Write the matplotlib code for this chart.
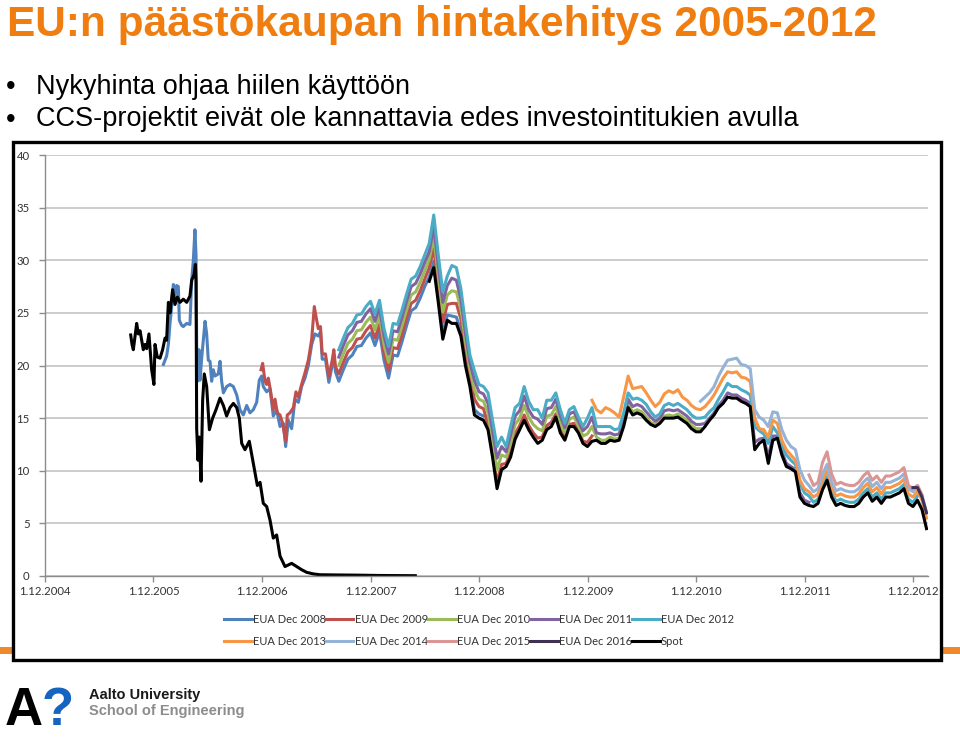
import numpy as np
import matplotlib
matplotlib.use("Agg")
import matplotlib.pyplot as plt
from matplotlib.patches import Rectangle

# time in decimal years; phase II prices sampled twice a month from Aug 2007
T2 = 2007.625 + np.arange(131) / 24

tick_pos = [2004.917 + i for i in range(9)]
tick_labels = ["1.12.%d" % (2004 + i) for i in range(9)]

# spot, phase I (2005-2008)
spot1_t = [2005.707, 2005.719, 2005.731, 2005.762, 2005.777, 2005.793, 2005.823, 2005.839,
           2005.854, 2005.875, 2005.900, 2005.921, 2005.931, 2005.952, 2005.977, 2006.001,
           2006.023, 2006.038, 2006.054, 2006.069, 2006.093, 2006.115, 2006.137, 2006.161,
           2006.192, 2006.223, 2006.253, 2006.269, 2006.290, 2006.303, 2006.309, 2006.315,
           2006.327, 2006.339, 2006.355, 2006.370, 2006.385, 2006.407, 2006.432, 2006.462,
           2006.493, 2006.530, 2006.561, 2006.591, 2006.622, 2006.653, 2006.684, 2006.708,
           2006.730, 2006.760, 2006.800, 2006.837, 2006.874, 2006.899, 2006.929, 2006.960,
           2006.991, 2007.021, 2007.052, 2007.083, 2007.129, 2007.190, 2007.236, 2007.282,
           2007.328, 2007.390, 2007.451, 2007.600, 2007.800, 2008.000, 2008.330]
spot1_v = [22.9, 22.0, 21.5, 24.0, 23.0, 23.3, 21.5, 22.0,
           21.6, 23.0, 19.6, 18.2, 22.0, 20.8, 20.7, 21.5,
           22.6, 22.4, 26.0, 25.0, 27.2, 25.8, 26.5, 26.0,
           26.3, 26.0, 26.6, 28.1, 28.6, 29.6, 28.0, 14.0,
           11.0, 13.2, 9.0, 16.7, 19.2, 18.0, 13.9, 15.0,
           15.8, 16.9, 16.2, 15.2, 16.0, 16.4, 16.0, 15.0,
           12.6, 12.0, 12.8, 10.7, 8.6, 8.9, 6.9, 6.6,
           5.3, 3.6, 3.9, 1.9, 0.9, 1.2, 0.9, 0.6,
           0.35, 0.2, 0.12, 0.1, 0.08, 0.05, 0.03]

# spot, phase II (from grid point 20)
spot2_v = [28.0, 29.3, 26.0, 22.5, 24.3, 24.0, 24.0, 22.8, 20.0, 18.0, 15.3, 15.0, 14.8,
           13.9, 11.3, 8.3, 10.1, 10.4, 11.3, 13.0, 13.9, 14.8, 13.9, 13.2, 12.6, 12.9, 13.9,
           14.2, 15.1, 13.6, 12.9, 14.2, 14.2, 13.6, 12.6, 12.3, 12.8,
           12.9, 12.6, 12.6, 12.9, 12.8, 12.9, 14.2, 16.0, 15.3, 15.5, 15.3, 14.8, 14.4, 14.2,
           14.5, 15.0, 15.0, 15.0, 15.1, 14.8, 14.5, 14.0, 13.7, 13.7,
           14.2, 14.8, 15.3, 16.0, 16.4, 17.0, 16.9, 16.9, 16.6, 16.4, 16.1, 12.0, 12.6, 12.9,
           10.7, 12.9, 13.1, 11.5, 10.4, 10.2, 9.9, 7.5, 6.9, 6.7,
           6.6, 6.9, 8.2, 9.1, 7.5, 6.7, 6.9, 6.7, 6.6, 6.6, 6.9, 7.5, 7.9, 7.1, 7.5, 6.9,
           7.5, 7.5, 7.7, 7.9, 8.3, 6.9, 6.6, 7.2, 6.3, 4.5]

# EUA Dec 2008, early part
dec08_early_t = [2006.008, 2006.023, 2006.038, 2006.054, 2006.069, 2006.084, 2006.100, 2006.115,
                 2006.130, 2006.146, 2006.155, 2006.177, 2006.192, 2006.223, 2006.253, 2006.269,
                 2006.284, 2006.299, 2006.309, 2006.315, 2006.324, 2006.336, 2006.346, 2006.361,
                 2006.392, 2006.407, 2006.422, 2006.438, 2006.453, 2006.468, 2006.484, 2006.514,
                 2006.530, 2006.545, 2006.561, 2006.591, 2006.622, 2006.653, 2006.684, 2006.714,
                 2006.745, 2006.776, 2006.806, 2006.837, 2006.868, 2006.892, 2006.914, 2006.929,
                 2006.960, 2006.991, 2007.021, 2007.052, 2007.083, 2007.114, 2007.135, 2007.160,
                 2007.190, 2007.221, 2007.252, 2007.282, 2007.313, 2007.344, 2007.375, 2007.405,
                 2007.436, 2007.456, 2007.472, 2007.502, 2007.533, 2007.564, 2007.579, 2007.594]
dec08_early_v = [20.1, 20.5, 20.9, 22.0, 24.0, 25.5, 27.7, 26.5,
                 27.6, 27.5, 24.3, 23.8, 23.7, 24.0, 23.9, 28.1,
                 30.0, 32.9, 30.5, 21.8, 18.5, 21.5, 18.6, 20.7,
                 24.2, 23.0, 20.5, 20.4, 18.5, 19.6, 19.0, 19.2,
                 20.4, 18.5, 17.4, 18.0, 18.2, 18.0, 17.2, 15.8,
                 15.3, 16.2, 15.5, 15.8, 16.5, 18.6, 19.0, 18.0,
                 17.5, 17.8, 15.2, 15.8, 14.2, 14.5, 12.3, 14.8,
                 14.0, 16.8, 16.5, 18.0, 18.8, 20.0, 22.0, 23.0,
                 22.8, 23.2, 20.6, 20.6, 18.4, 20.0, 21.0, 19.4]
dec08_v = [18.5, 19.6, 20.6, 21.0, 21.8, 21.9, 22.6, 23.1, 21.9, 23.2, 20.5, 18.8, 21.0, 20.9,
           22.3, 23.8, 25.2, 25.5, 26.4, 27.5,
           28.4, 29.9, 26.5, 23.0, 24.8, 24.7, 24.6, 23.3, 20.5, 18.4, 15.8, 15.4, 15.2]

# EUA Dec 2009, early part
dec09_early_t = [2006.908, 2006.923, 2006.945, 2006.960, 2006.975, 2006.997, 2007.021, 2007.037,
                 2007.058, 2007.083, 2007.107, 2007.135, 2007.150, 2007.175, 2007.206, 2007.230,
                 2007.252, 2007.282, 2007.313, 2007.344, 2007.375, 2007.399, 2007.421, 2007.436,
                 2007.456, 2007.472, 2007.502, 2007.533, 2007.564, 2007.579, 2007.594]
dec09_early_v = [19.6, 20.2, 18.5, 18.2, 18.8, 17.5, 15.8, 16.8,
                 15.5, 15.3, 14.5, 12.8, 15.3, 15.5, 16.0, 17.5,
                 17.0, 18.2, 19.3, 20.5, 22.5, 25.6, 24.3, 23.5,
                 23.7, 21.1, 21.1, 18.9, 20.5, 21.5, 19.9]
dec09_v = [19.2, 20.3, 21.3, 21.7, 22.5, 22.6, 23.3, 23.8, 22.6, 23.9, 21.2, 19.5, 21.7, 21.6,
           23.0, 24.5, 25.9, 26.2, 27.1, 28.2,
           29.3, 31.1, 27.6, 24.1, 25.8, 25.9, 25.9, 24.4, 21.4, 19.1, 16.8, 16.1, 15.9,
           14.4, 11.8, 8.9, 10.6, 10.7, 11.7, 13.5, 14.3, 15.3, 14.3, 13.6, 13.1, 13.2, 14.3,
           14.6, 15.4, 13.9, 13.1, 14.4, 14.5, 13.8, 12.8, 12.7, 13.3]

dec10_v = [20.0, 21.1, 22.1, 22.5, 23.3, 23.4, 24.1, 24.6, 23.4, 24.7, 22.0, 20.3, 22.5, 22.4,
           23.8, 25.3, 26.7, 27.0, 27.9, 29.0,
           30.1, 32.2, 28.6, 25.1, 26.7, 27.1, 27.0, 25.4, 22.3, 19.7, 17.7, 16.8, 16.6,
           15.5, 12.9, 10.1, 11.5, 11.3, 12.6, 14.4, 15.0, 16.2, 15.1, 14.4, 14.0, 13.8, 15.2,
           15.3, 16.1, 14.6, 13.6, 14.9, 15.1, 14.3, 13.3, 13.5, 14.2,
           13.2, 12.9, 12.9, 13.2, 13.0, 13.1, 14.5, 16.3, 15.6, 15.8, 15.6, 15.1, 14.6, 14.4,
           14.7, 15.2, 15.3, 15.2, 15.4, 15.1, 14.8, 14.3, 14.0, 14.0]

dec11_v = [20.8, 21.9, 22.9, 23.3, 24.1, 24.2, 24.9, 25.4, 24.2, 25.5, 22.8, 21.1, 23.3, 23.2,
           24.6, 26.1, 27.5, 27.8, 28.7, 29.8,
           30.8, 33.2, 29.5, 26.0, 27.6, 28.3, 28.1, 26.3, 23.1, 20.3, 18.6, 17.5, 17.3,
           16.4, 13.8, 11.2, 12.3, 11.8, 13.4, 15.2, 15.7, 17.1, 15.8, 15.1, 14.9, 14.4, 15.9,
           16.0, 16.8, 15.2, 14.1, 15.4, 15.6, 14.7, 13.8, 14.2, 15.1,
           13.6, 13.5, 13.5, 13.6, 13.4, 13.5, 14.9, 16.8, 16.1, 16.3, 16.1, 15.6, 15.1, 14.7,
           15.0, 15.7, 15.8, 15.7, 15.8, 15.5, 15.2, 14.7, 14.4, 14.4,
           14.5, 15.0, 15.5, 16.2, 16.7, 17.4, 17.2, 17.2, 16.9, 16.7, 16.4, 12.7, 13.0, 13.1,
           11.3, 13.3, 13.3, 11.8, 10.7, 10.4, 10.1, 7.9, 7.2, 7.0]

dec12_v = [21.5, 22.6, 23.6, 24.0, 24.8, 24.9, 25.6, 26.1, 24.9, 26.2, 23.5, 21.8, 24.0, 23.9,
           25.3, 26.8, 28.2, 28.5, 29.4, 30.5,
           31.6, 34.3, 30.5, 27.0, 28.5, 29.5, 29.3, 27.3, 24.0, 21.0, 19.5, 18.2, 18.0,
           17.4, 14.8, 12.3, 13.2, 12.3, 14.2, 16.0, 16.4, 18.0, 16.6, 15.8, 15.8, 15.0, 16.7,
           16.7, 17.4, 15.8, 14.5, 15.8, 16.1, 15.1, 14.2, 15.0, 16.0,
           14.2, 14.2, 14.2, 14.2, 13.9, 14.0, 15.5, 17.4, 16.8, 16.9, 16.7, 16.3, 15.6, 15.1,
           15.4, 16.2, 16.4, 16.2, 16.4, 16.1, 15.8, 15.3, 15.0, 15.0,
           15.1, 15.6, 16.0, 16.8, 17.5, 18.3, 18.0, 18.0, 17.7, 17.5, 17.2, 14.2, 13.8, 13.5,
           12.6, 14.2, 13.6, 12.4, 11.5, 11.0, 10.6, 8.8, 7.9, 7.6,
           7.0, 7.3, 8.6, 9.5, 7.9, 7.1, 7.3, 7.1, 7.0, 7.0, 7.3, 7.9, 8.3, 7.5, 7.9, 7.3,
           7.9, 7.9, 8.1, 8.3, 8.7, 7.3, 7.0, 7.6]

# from grid point 56
dec13_v = [16.7, 15.8, 15.5, 16.0, 15.8, 15.5, 15.1, 17.0, 19.0, 17.8, 17.9, 18.0, 17.4,
           16.7, 16.1, 16.5, 17.3, 17.6, 17.4, 17.7, 17.0, 16.7, 16.2, 15.9, 15.8,
           16.1, 16.6, 17.2, 18.0, 18.8, 19.4, 19.3, 19.4, 18.9, 18.8, 18.5, 15.0, 14.0, 13.9,
           13.2, 14.8, 14.5, 12.9, 12.0, 11.5, 11.0, 9.1, 8.3, 8.0,
           7.5, 7.8, 9.1, 10.0, 8.4, 7.6, 7.8, 7.6, 7.5, 7.5, 7.8, 8.4, 8.8, 8.0, 8.4, 7.8,
           8.4, 8.4, 8.6, 8.8, 9.2, 7.8, 7.5, 8.1, 7.2, 5.5]

# from grid point 80
dec14_v = [16.6, 17.0, 17.4, 18.0, 19.0, 19.8, 20.5, 20.6, 20.7, 20.1, 20.0, 19.7, 15.8,
           15.1, 14.8, 14.2, 15.6, 15.5, 13.9, 12.9, 12.3, 12.0, 10.1, 9.1, 8.6,
           8.0, 8.3, 9.7, 10.6, 8.9, 8.1, 8.3, 8.1, 8.0, 8.0, 8.3, 8.9, 9.3, 8.5, 8.9, 8.3,
           8.9, 8.9, 9.1, 9.3, 9.7, 8.3, 8.0, 8.6, 7.7, 6.0]

# from grid point 104
dec15_v = [9.6, 8.6, 8.9, 10.8, 11.8, 9.7, 8.7, 8.9, 8.7, 8.6, 8.6, 8.9, 9.5, 9.9, 9.1,
           9.5, 8.9, 9.5, 9.5, 9.7, 9.9, 10.3, 8.6, 8.3, 8.6, 7.7]

# from grid point 127
dec16_v = [8.4, 8.4, 7.5, 6.0]

series = [
    ("EUA Dec 2008", "#4F81BD", np.r_[dec08_early_t, T2[:len(dec08_v)]], np.r_[dec08_early_v, dec08_v]),
    ("EUA Dec 2009", "#C0504D", np.r_[dec09_early_t, T2[:len(dec09_v)]], np.r_[dec09_early_v, dec09_v]),
    ("EUA Dec 2010", "#9BBB59", T2[:len(dec10_v)], dec10_v),
    ("EUA Dec 2011", "#8064A2", T2[:len(dec11_v)], dec11_v),
    ("EUA Dec 2012", "#4BACC6", T2[:len(dec12_v)], dec12_v),
    ("EUA Dec 2013", "#F79646", T2[56:56 + len(dec13_v)], dec13_v),
    ("EUA Dec 2014", "#95B3D7", T2[80:80 + len(dec14_v)], dec14_v),
    ("EUA Dec 2015", "#D99694", T2[104:104 + len(dec15_v)], dec15_v),
    ("EUA Dec 2016", "#403152", T2[127:127 + len(dec16_v)], dec16_v),
]

W, H = 960, 737
fig = plt.figure(figsize=(W / 100, H / 100), dpi=100)
fig.patch.set_facecolor("white")

def fx(px):
    return px / W

def fy(py):
    return 1 - py / H

# slide header
fig.text(fx(7), fy(36), "EU:n päästökaupan hintakehitys 2005-2012", color="#F07D10",
         fontsize=30.5, fontweight="bold", family="Liberation Sans", va="baseline")
bullets = ["Nykyhinta ohjaa hiilen käyttöön",
           "CCS-projektit eivät ole kannattavia edes investointitukien avulla"]
for i, b in enumerate(bullets):
    yb = 94 + i * 32.5
    fig.text(fx(6), fy(yb), "•", fontsize=19.5, family="Liberation Sans", va="baseline")
    fig.text(fx(36), fy(yb), b, fontsize=19.5, family="Liberation Sans", va="baseline")

# orange footer strip behind the chart, then the chart frame
fig.add_artist(Rectangle((0, fy(654)), 1, 7 / H, transform=fig.transFigure,
                         facecolor="#F0892A", edgecolor="none", zorder=1))
fig.add_artist(Rectangle((fx(13), fy(660)), 928 / W, 518 / H, transform=fig.transFigure,
                         facecolor="white", edgecolor="black", lw=2.4, zorder=2))

ax = fig.add_axes([fx(45), fy(576), (928 - 45) / W, (576 - 155) / H], zorder=3)
ax.set_facecolor("none")

for name, col, t, v in series:
    ax.plot(t, v, color=col, lw=2.2, label=name)
ax.plot(spot1_t, spot1_v, color="black", lw=2.2, label="Spot")
ax.plot(T2[20:20 + len(spot2_v)], spot2_v, color="black", lw=2.2)

ax.set_xlim(2004.917, 2004.917 + 883 / 108.5)
ax.set_ylim(0, 40)
ax.set_yticks(range(0, 41, 5))
ax.set_xticks(tick_pos)
ax.set_xticklabels(tick_labels)
ax.yaxis.grid(True, color="#BEBEBE", lw=1.1)
ax.set_axisbelow(True)
for s in ["top", "right"]:
    ax.spines[s].set_visible(False)
for s in ["left", "bottom"]:
    ax.spines[s].set_color("#8C8C8C")
    ax.spines[s].set_linewidth(1.0)
ax.tick_params(axis="both", colors="#8C8C8C", length=4, width=1.0, labelsize=8.2,
               labelcolor="#333333")
for lab in ax.get_xticklabels() + ax.get_yticklabels():
    lab.set_family("Lato")
ax.tick_params(axis="x", pad=3)
ax.tick_params(axis="y", pad=7)

# legend: two rows, filled row by row
handles, labels = ax.get_legend_handles_labels()
order = [0, 5, 1, 6, 2, 7, 3, 8, 4, 9]
leg = ax.legend([handles[i] for i in order], [labels[i] for i in order], ncol=5,
                loc="center", bbox_to_anchor=(fx(479), fy(630.5)), bbox_transform=fig.transFigure,
                frameon=False, prop={"family": "Lato", "size": 8.0}, handlelength=2.45,
                handletextpad=0.1, columnspacing=0.05, labelspacing=0.95)
for txt in leg.get_texts():
    txt.set_color("#333333")

# logo
fig.text(fx(5), fy(725), "A", fontsize=38, fontweight="bold", family="Liberation Sans",
         color="black", va="baseline")
fig.text(fx(42), fy(725), "?", fontsize=38, fontweight="bold", family="Liberation Sans",
         color="#1464C0", va="baseline")
fig.text(fx(89), fy(699), "Aalto University", fontsize=10.5, fontweight="bold",
         family="Liberation Sans", color="#1A1A1A", va="baseline")
fig.text(fx(89), fy(714.5), "School of Engineering", fontsize=10.5, fontweight="bold",
         family="Liberation Sans", color="#8C8C8C", va="baseline")

fig.savefig("out.png", dpi=100, facecolor="white")
